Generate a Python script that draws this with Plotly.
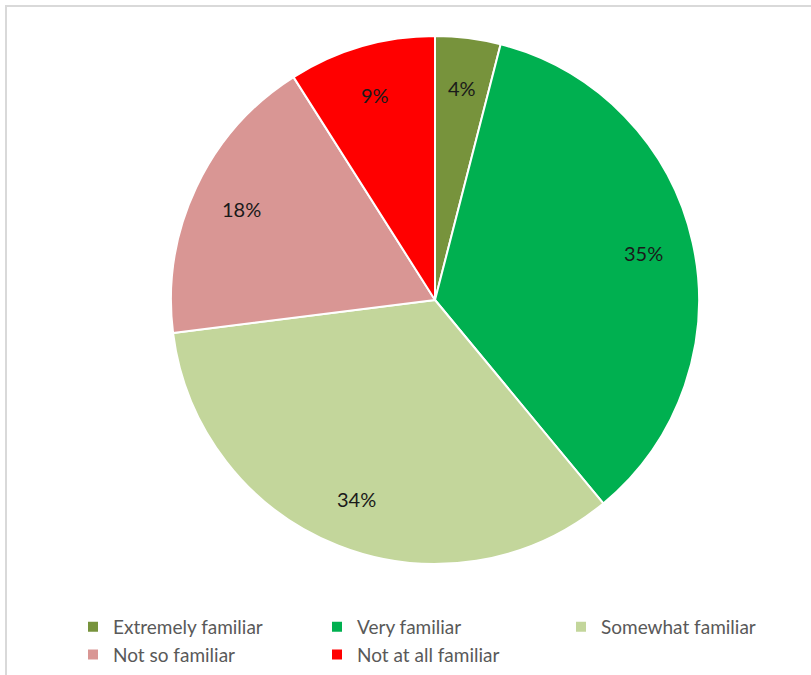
import math
import plotly.graph_objects as go

# Survey response shares (percent)
categories = ["Extremely familiar", "Very familiar", "Somewhat familiar",
              "Not so familiar", "Not at all familiar"]
shares = [4, 35, 34, 18, 9]
colors = ["#77933C", "#00B050", "#C3D69B", "#D99694", "#FF0000"]

W, H = 811, 675
# pie domain in paper coordinates
dom_x = [171 / W, 699 / W]
dom_y = [1 - 564 / H, 1 - 36 / H]

fig = go.Figure(go.Pie(
    labels=categories,
    values=shares,
    sort=False,
    direction="clockwise",
    rotation=0,
    marker=dict(colors=colors, line=dict(color="white", width=2)),
    textinfo="none",
    hoverinfo="label+percent",
    domain=dict(x=dom_x, y=dom_y),
))

# percentage labels placed along each slice's bisector
cx = (dom_x[0] + dom_x[1]) / 2
cy = (dom_y[0] + dom_y[1]) / 2
r_px = (dom_x[1] - dom_x[0]) * W / 2
total = sum(shares)
cum = 0
for s in shares:
    mid = (cum + s / 2) / total * 2 * math.pi
    cum += s
    rf = 0.81
    dx = rf * r_px * math.sin(mid)
    dy = rf * r_px * math.cos(mid)
    fig.add_annotation(
        x=cx + dx / W, y=cy + dy / H, xref="paper", yref="paper",
        xanchor="center", yanchor="middle",
        text=f"{round(s / total * 100)}%", showarrow=False,
        font=dict(family="Lato, sans-serif", size=20, color="#1a1a1a"),
    )

# outer chart frame
fig.add_shape(type="rect", xref="paper", yref="paper",
              x0=6 / W, x1=1.02, y0=-0.02, y1=1 - 6 / H,
              line=dict(color="#D9D9D9", width=2), layer="below")

fig.update_layout(
    width=W, height=H,
    margin=dict(l=0, r=0, t=0, b=0),
    paper_bgcolor="white",
    showlegend=True,
    legend=dict(
        orientation="h",
        x=73 / W, xanchor="left",
        y=1 - 608 / H, yanchor="top",
        entrywidth=199, entrywidthmode="pixels",
        font=dict(family="Lato, sans-serif", size=19, color="#595959"),
        traceorder="normal",
        itemclick=False,
    ),
)

fig.write_html("out.html")
